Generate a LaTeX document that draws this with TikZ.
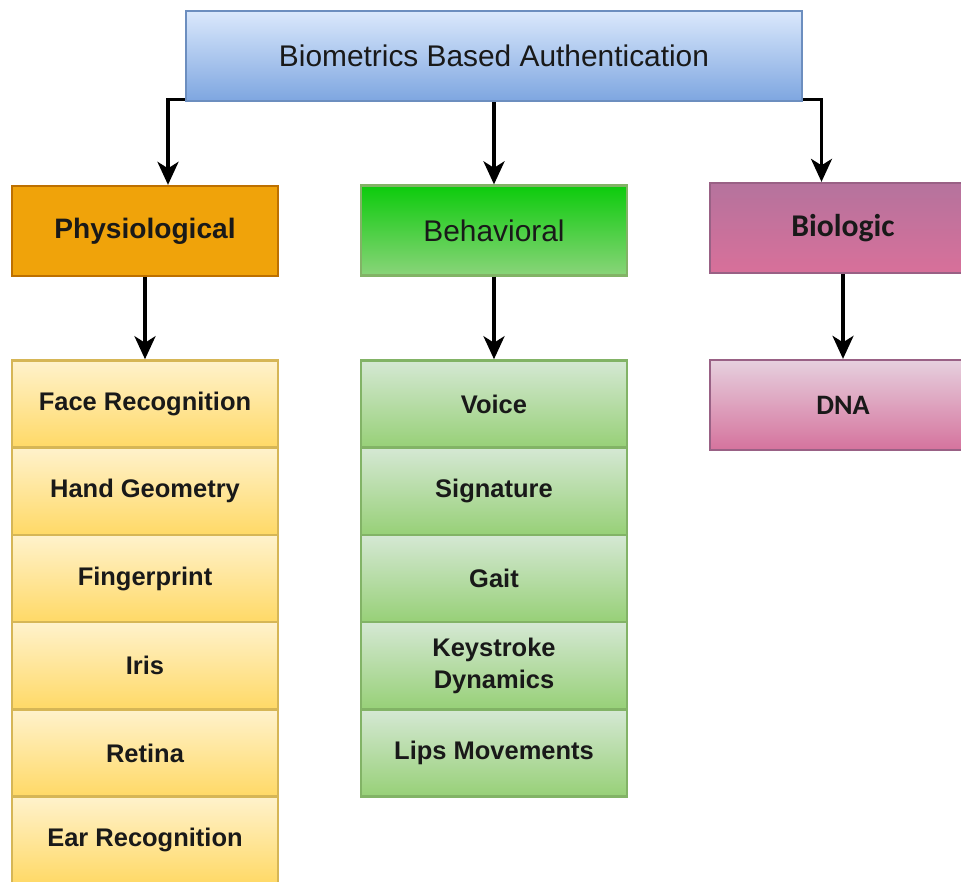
\documentclass[tikz,border=0pt]{standalone}
\usepackage{fontspec}
\setmainfont{Liberation Sans}
\newfontfamily\calfont{Carlito}
\usepackage{xcolor}
\usetikzlibrary{positioning,arrows.meta}

\definecolor{rootdraw}{HTML}{6C8EBF}
\definecolor{roottop}{HTML}{DAE8FC}
\definecolor{rootbot}{HTML}{7EA6E0}
\definecolor{physdraw}{HTML}{BD7000}
\definecolor{physfill}{HTML}{F0A30A}
\definecolor{behdraw}{HTML}{82B366}
\definecolor{behtop}{HTML}{0CCB0C}
\definecolor{behbot}{HTML}{8AD47A}
\definecolor{biodraw}{HTML}{996185}
\definecolor{biotop}{HTML}{B5739D}
\definecolor{biobot}{HTML}{D8709A}
\definecolor{dnatop}{HTML}{E6D0DE}
\definecolor{dnabot}{HTML}{D5739D}
\definecolor{pitemdraw}{HTML}{D6B656}
\definecolor{pitemtop}{HTML}{FFF2CC}
\definecolor{pitembot}{HTML}{FFD966}
\definecolor{bitemtop}{HTML}{D5E8D4}
\definecolor{bitembot}{HTML}{97D077}

\begin{document}
\begin{tikzpicture}[
      >={Stealth[length=4.6mm,width=4.2mm,inset=1.3mm]},
      conn/.style={->,line width=2pt,black},
      box/.style={draw,rectangle,minimum width=5.32cm,minimum height=1.8cm,inner sep=2pt,line width=1.3pt,text=black!90},
      root/.style={box,minimum width=12.32cm,draw=rootdraw,top color=roottop,bottom color=rootbot,font=\fontsize{17}{20}\selectfont},
      physio/.style={box,draw=physdraw,fill=physfill,font=\fontsize{16}{19}\selectfont\bfseries},
      behav/.style={box,draw=behdraw,top color=behtop,bottom color=behbot,font=\fontsize{17}{20}\selectfont},
      bio/.style={box,draw=biodraw,top color=biotop,bottom color=biobot,font=\calfont\fontsize{18}{21}\selectfont\bfseries},
      pitem/.style={box,minimum height=1.745cm,draw=pitemdraw,top color=pitemtop,bottom color=pitembot,font=\fontsize{14.5}{18}\selectfont\bfseries,align=center},
      bitem/.style={box,minimum height=1.745cm,draw=behdraw,top color=bitemtop,bottom color=bitembot,font=\fontsize{14.5}{18}\selectfont\bfseries,align=center},
      ditem/.style={box,draw=biodraw,top color=dnatop,bottom color=dnabot,font=\calfont\fontsize{16}{19}\selectfont\bfseries}
  ]
      \clip (0,0) rectangle (19.22,-17.64);

      % 상위 노드
      \node[root]   (auth)  at (9.88,-1.12) {Biometrics Based Authentication};
      \node[physio] (phys)  at (2.90,-4.62) {Physiological};
      \node[behav]  (behav) at (9.88,-4.61) {Behavioral};
      \node[bio]    (bio)   at (16.86,-4.56) {Biologic};

      % 하위 항목
      \foreach \txt [count=\i] in {Face Recognition,Hand Geometry,Fingerprint,Iris,Retina,Ear Recognition}
        \node[pitem] (p\i) at (2.90,{-8.08-(\i-1)*1.745}) {\txt};
      \foreach \txt [count=\i] in {Voice,Signature,Gait,{Keystroke\\Dynamics},Lips Movements}
        \node[bitem] (b\i) at (9.88,{-8.08-(\i-1)*1.745}) {\txt};
      \node[ditem] (dna) at (16.86,-8.10) {DNA};

      % 연결
      \draw[conn] ([yshift=0.05cm]auth.south west) -| ([xshift=0.46cm]phys.north);
      \draw[conn] (auth) -- (behav);
      \draw[conn] ([yshift=0.05cm]auth.south east) -| ([xshift=-0.43cm]bio.north);
      \draw[conn] (phys) -- (p1);
      \draw[conn] (behav) -- (b1);
      \draw[conn] (bio) -- (dna);
  \end{tikzpicture}
\end{document}
